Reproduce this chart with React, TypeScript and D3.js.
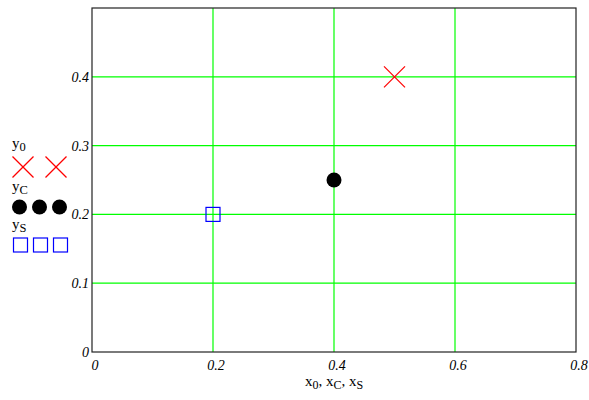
import React from "react";
import * as d3 from "d3";

// point series
const x0 = [0.5];
const y0 = [0.4];
const xC = [0.4];
const yC = [0.25];
const xS = [0.2];
const yS = [0.2];

const xTicks = [0, 0.2, 0.4, 0.6, 0.8];
const yTicks = [0, 0.1, 0.2, 0.3, 0.4];
const gridX = [0.2, 0.4, 0.6];
const gridY = [0.1, 0.2, 0.3, 0.4];

const W = 589;
const H = 400;
const margin = { left: 92, right: 13, top: 8, bottom: 48 };

const font = "'Liberation Serif', 'Times New Roman', serif";

const Cross = ({ x, y, r = 10.5 }) => (
  <g stroke="#ff0000" strokeWidth={1.2}>
    <line x1={x - r} y1={y - r} x2={x + r} y2={y + r} />
    <line x1={x - r} y1={y + r} x2={x + r} y2={y - r} />
  </g>
);

const Dot = ({ x, y }) => <circle cx={x} cy={y} r={7.5} fill="#000" />;

const Square = ({ x, y }) => (
  <rect x={x - 7} y={y - 7} width={14} height={14} fill="none" stroke="#0000ff" strokeWidth={1.2} />
);

const Sub = ({ base, sub, x, y, anchor = "start" }) => (
  <text x={x} y={y} fontFamily={font} fontSize={15} textAnchor={anchor}>
    {base}
    <tspan fontSize={12.5} dy={3}>{sub}</tspan>
  </text>
);

export default function App() {
  const xScale = d3.scaleLinear().domain([0, 0.8]).range([margin.left, W - margin.right]);
  const yScale = d3.scaleLinear().domain([0, 0.5]).range([H - margin.bottom, margin.top]);
  const [xl, xr] = xScale.range();
  const [yb, yt] = yScale.range();
  const fmt = (t) => (t === 0 ? "0" : String(t));

  return (
    <svg width={W} height={H} style={{ position: "absolute", left: 0, top: 0, background: "#fff" }}>
      {/* grid */}
      {gridX.map((t) => (
        <line key={"gx" + t} x1={xScale(t)} x2={xScale(t)} y1={yt} y2={yb} stroke="#00ff00" strokeWidth={1.2} />
      ))}
      {gridY.map((t) => (
        <line key={"gy" + t} x1={xl} x2={xr} y1={yScale(t)} y2={yScale(t)} stroke="#00ff00" strokeWidth={1.2} />
      ))}
      <rect x={xl} y={yt} width={xr - xl} height={yb - yt} fill="none" stroke="#222" strokeWidth={1.2} />

      {/* tick labels */}
      {xTicks.map((t) => (
        <text key={"xt" + t} x={xScale(t) + 3} y={yb + 18} textAnchor="middle" fontFamily={font} fontStyle="italic" fontSize={14}>
          {fmt(t)}
        </text>
      ))}
      {yTicks.map((t) => (
        <text key={"yt" + t} x={xl - 3} y={yScale(t) + 5} textAnchor="end" fontFamily={font} fontStyle="italic" fontSize={14}>
          {fmt(t)}
        </text>
      ))}

      {/* points */}
      {x0.map((v, i) => <Cross key={"c" + i} x={xScale(v)} y={yScale(y0[i])} />)}
      {xC.map((v, i) => <Dot key={"d" + i} x={xScale(v)} y={yScale(yC[i])} />)}
      {xS.map((v, i) => <Square key={"s" + i} x={xScale(v)} y={yScale(yS[i])} />)}

      {/* axis title */}
      <text x={xScale(0.4)} y={386} textAnchor="middle" fontFamily={font} fontSize={15}>
        x<tspan fontSize={12} dy={3}>0</tspan>
        <tspan dy={-3}>, x</tspan>
        <tspan fontSize={12} dy={3}>C</tspan>
        <tspan dy={-3}>, x</tspan>
        <tspan fontSize={12} dy={3}>S</tspan>
      </text>

      {/* legend */}
      <Sub base="y" sub="0" x={12} y={148} />
      <Cross x={23} y={167} />
      <Cross x={56} y={167} />
      <Sub base="y" sub="C" x={12} y={191} />
      <Dot x={19.5} y={207} />
      <Dot x={39.5} y={207} />
      <Dot x={59.5} y={207} />
      <Sub base="y" sub="S" x={12} y={229} />
      <Square x={20.5} y={245} />
      <Square x={40.5} y={245} />
      <Square x={60.5} y={245} />
    </svg>
  );
}
